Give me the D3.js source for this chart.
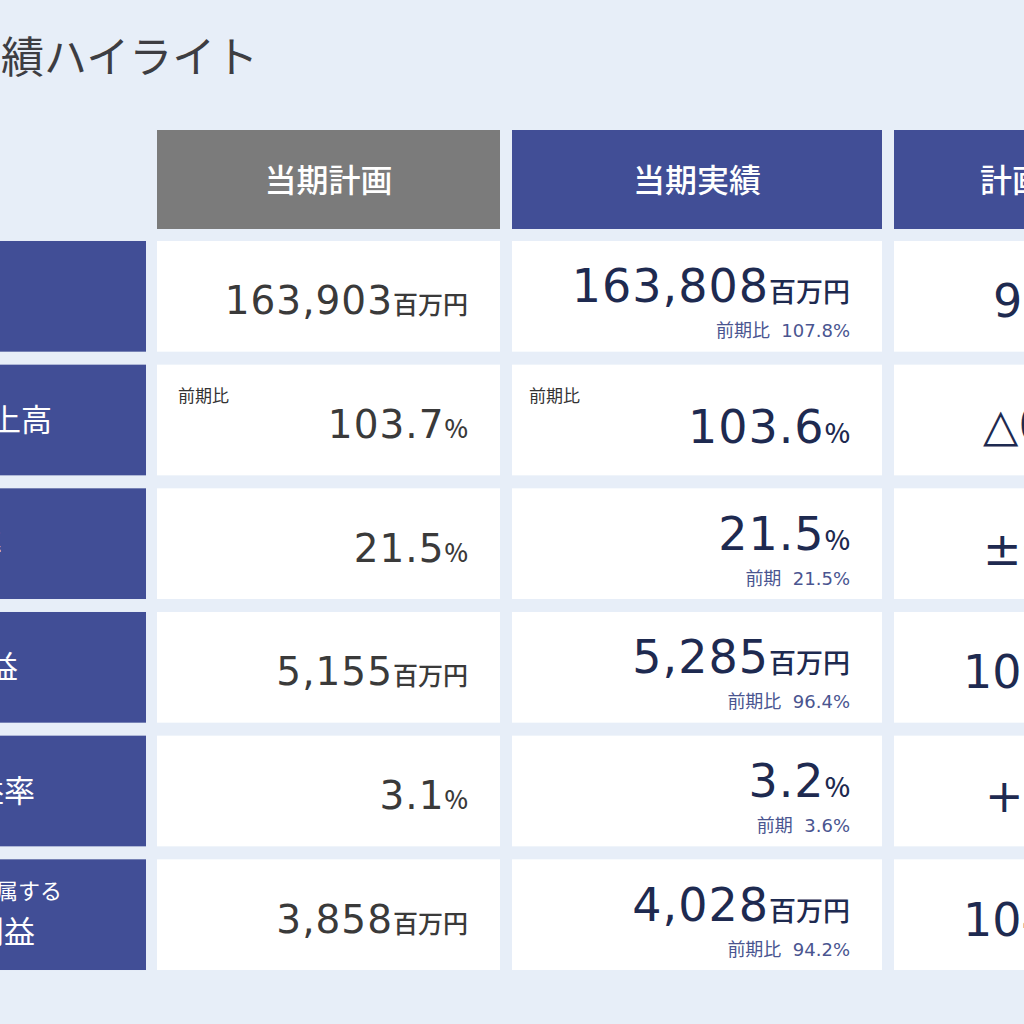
<!DOCTYPE html>
<html><head><meta charset="utf-8">
<script src="https://cdn.jsdelivr.net/npm/d3@7"></script>
<style>body{margin:0;background:#e7eef8;}svg{display:block}</style>
</head><body>
<svg id="c" width="1024" height="1024"></svg>
<script>
const title = "業績ハイライト";
const headers = ["当期計画", "当期実績", "計画比"];
const rowLabels = [["売上高"], ["既存店売上高"], ["売上総利益率"], ["経常利益"], ["経常利益率"], ["親会社株主に帰属する", "当期純利益"]];
const planValues = ["163,903", "103.7", "21.5", "5,155", "3.1", "3,858"];
const planUnits = ["百万円", "%", "%", "百万円", "%", "百万円"];
const planNotes = ["", "前期比", "", "", "", ""];
const actualValues = ["163,808", "103.6", "21.5", "5,285", "3.2", "4,028"];
const actualUnits = ["百万円", "%", "%", "百万円", "%", "百万円"];
const actualNotes = ["前期比  107.8%", "", "前期  21.5%", "前期比  96.4%", "前期  3.6%", "前期比  94.2%"];
const actualTopNotes = ["", "前期比", "", "", "", ""];
const diffValues = ["99.9%", "△0.1pt", "±0.0pt", "102.5%", "+0.1pt", "104.4%"];

const FONT = "'Noto Sans CJK JP',sans-serif";
const NUM = "'DejaVu Sans','Noto Sans CJK JP',sans-serif";
const NAVY = "#414e96", GRAY = "#7b7b7b";
const labelEnd = [-10, 52, 2, 18, 35, 62];
const diffStart = [993, 983, 983, 963, 985, 963];
const headerAnchorX = [null, null, 980];
const svg = d3.select("#c");

const y = d3.scaleBand().domain(d3.range(rowLabels.length)).range([234.5, 976.5]).paddingInner(0.105).paddingOuter(0.0525);
const colX = [[157, 500], [512, 882], [894, 1264]];

svg.append("text").attr("x", -42).attr("y", 73).attr("font-family", FONT).attr("font-size", 43)
  .attr("fill", "#3d3d42").text(title);

headers.forEach((h, i) => {
  const [x0, x1] = colX[i];
  svg.append("rect").attr("x", x0).attr("y", 130).attr("width", x1 - x0).attr("height", 99)
    .attr("fill", i === 0 ? GRAY : NAVY);
  const t = svg.append("text").attr("y", 192).attr("font-family", FONT).attr("font-size", 32)
    .attr("font-weight", 500).attr("fill", "#fff").text(h);
  if (headerAnchorX[i] === null) t.attr("x", (x0 + x1) / 2).attr("text-anchor", "middle");
  else t.attr("x", headerAnchorX[i]);
});

rowLabels.forEach((lab, r) => {
  const y0 = y(r), bw = y.bandwidth(), cy = y0 + bw / 2;
  svg.append("rect").attr("x", -10).attr("y", y0).attr("width", 156).attr("height", bw).attr("fill", NAVY);
  if (lab.length === 1) {
    svg.append("text").attr("x", labelEnd[r]).attr("y", cy + 11).attr("text-anchor", "end")
      .attr("font-family", FONT).attr("font-size", 31).attr("fill", "#fff").text(lab[0]);
  } else {
    svg.append("text").attr("x", labelEnd[r]).attr("y", cy - 16).attr("text-anchor", "end")
      .attr("font-family", FONT).attr("font-size", 22).attr("fill", "#fff").text(lab[0]);
    svg.append("text").attr("x", 35).attr("y", cy + 28).attr("text-anchor", "end")
      .attr("font-family", FONT).attr("font-size", 31).attr("fill", "#fff").text(lab[1]);
  }
  colX.forEach(([x0, x1]) => {
    svg.append("rect").attr("x", x0).attr("y", y0).attr("width", x1 - x0).attr("height", bw).attr("fill", "#fff");
  });
  const p = svg.append("text").attr("x", 468).attr("y", cy + 18).attr("text-anchor", "end").attr("fill", "#3a3a3a");
  p.append("tspan").attr("font-family", NUM).attr("font-size", 39).attr("letter-spacing", 1).text(planValues[r]);
  p.append("tspan").attr("font-family", FONT).attr("font-size", 25).attr("font-weight", 500).text(planUnits[r]);
  if (planNotes[r]) svg.append("text").attr("x", 178).attr("y", cy - 18).attr("font-family", FONT)
    .attr("font-size", 17).attr("fill", "#333").text(planNotes[r]);
  const hasNote = !!actualNotes[r];
  const a = svg.append("text").attr("x", 850).attr("y", hasNote ? cy + 6 : cy + 23).attr("text-anchor", "end").attr("fill", "#1e2a50");
  a.append("tspan").attr("font-family", NUM).attr("font-size", 46).attr("letter-spacing", 1).text(actualValues[r]);
  a.append("tspan").attr("font-family", FONT).attr("font-size", 27).attr("font-weight", 500).text(actualUnits[r]);
  if (hasNote) svg.append("text").attr("x", 850).attr("y", cy + 41).attr("text-anchor", "end")
    .attr("font-family", NUM).attr("font-size", 18).attr("fill", "#4a5590").attr("xml:space", "preserve").text(actualNotes[r]);
  if (actualTopNotes[r]) svg.append("text").attr("x", 529).attr("y", cy - 18).attr("font-family", FONT)
    .attr("font-size", 17).attr("fill", "#333").text(actualTopNotes[r]);
  svg.append("text").attr("x", diffStart[r]).attr("y", cy + 21).attr("font-family", NUM)
    .attr("font-size", 46).attr("fill", "#1e2a50").text(diffValues[r]);
});
</script>
</body></html>
